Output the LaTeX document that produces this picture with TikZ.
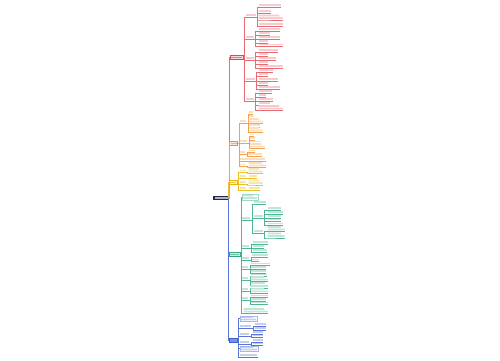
\documentclass[tikz,border=0pt]{standalone}
\usetikzlibrary{positioning}
\definecolor{rootC}{HTML}{1E2B4A}
\definecolor{redC}{HTML}{E2474F}
\definecolor{orgC}{HTML}{F0912A}
\definecolor{ylwC}{HTML}{E8B810}
\definecolor{grnC}{HTML}{2FA97C}
\definecolor{bluC}{HTML}{3E5BD0}

\begin{document}
\begin{tikzpicture}[x=1pt, y=-1pt,
  root/.style={fill=rootC, inner sep=0pt, minimum width=16pt, minimum height=4.6pt,
    path picture={\fill[white!65!rootC] ([shift={(1.5pt,1.6pt)}]path picture bounding box.south west)
      rectangle ([shift={(-1.5pt,-1.6pt)}]path picture bounding box.north east);}},
  mainbox/.style={draw=#1, fill=#1!22, line width=0.3pt, inner sep=0pt, minimum height=3.6pt,
    path picture={\fill[#1!70] ([shift={(1pt,1.3pt)}]path picture bounding box.south west)
      rectangle ([shift={(-1pt,-1.3pt)}]path picture bounding box.north east);}},
  leaf/.style={inner sep=0pt, anchor=west},
  boxed/.style={draw=#1!45, fill=white, line width=0.3pt},
  ln1/.style={minimum height=3pt,
    path picture={\fill[bar] ([shift={(0.5pt,1pt)}]path picture bounding box.south west)
      rectangle ([shift={(-0.5pt,-0.5pt)}]path picture bounding box.north east);}},
  ln2/.style={minimum height=5.6pt,
    path picture={\fill[bar] ([shift={(0.5pt,1pt)}]path picture bounding box.south west)
      rectangle ([shift={(-0.5pt,2.6pt)}]path picture bounding box.south east)
      ([shift={(0.5pt,3.4pt)}]path picture bounding box.south west)
      rectangle ([shift={(-4pt,-0.5pt)}]path picture bounding box.north east);}},
  bar/.style={fill=gray!30},
  wire/.style={draw=gray, line width=0.3pt}
]
\fill[white] (0,0) rectangle (500,360);
\useasboundingbox (0,0) rectangle (500,360);

%% -- root --
\node[root] (root) at (221,198) {};

%% -- red branch --
\begin{scope}[bar/.style={fill=redC!28}, wire/.style={draw=redC!80, line width=0.3pt}]
\node[mainbox=redC, minimum width=13pt] (red) at (236.5,57) {};
\draw[wire] (root.east) -| ([xshift=-0.5pt]red.west) -- (red.west);
\foreach \s/\ys/\sw/\lx/\leaves in {
    1/15/11/258/{5/23/1,11/13/1,17/25/2,24/25/1},
    2/37/9/258/{29/22/1,33/12/1,37/22/1,41/10/1,44.5/25/1},
    3/58/9/258/{50/20/1,54/10/1,58/18/1,62/10/1,66/25/1},
    4/79/10/258/{70/15/1,74/10/1,79/20/1,83/10/1,87/22/1},
    5/99/9/258/{91/14/1,95/8/1,99/15/1,103/12/1,107.5/25/2}}{
  \node[leaf, ln1, minimum width=\sw pt] (red-\s) at (245,\ys) {};
  \draw[wire] (red.east) -- ++(1,0) |- (red-\s.south west) -- (red-\s.south east);
  \foreach \y/\w/\n [count=\j] in \leaves {
    \node[leaf, ln\n, minimum width=\w pt] (red-\s-\j) at (\lx,\y) {};
    \draw[wire] (red-\s.south east) -- ++(1,0) |- (red-\s-\j.south west) -- (red-\s-\j.south east);
  }
}
\end{scope}

%% -- orange branch --
\begin{scope}[bar/.style={fill=orgC!30}, wire/.style={draw=orgC!85, line width=0.3pt}]
\node[mainbox=orgC, minimum width=8pt] (org) at (233.5,143) {};
\draw[wire] (root.east) -| ([xshift=-0.5pt]org.west) -- (org.west);
\foreach \s/\ys/\sw/\lx/\leaves in {
    1/121/7/248/{112/5/1,116/6/1,120.5/15/2,125/12/1,129.5/15/2},
    2/141/8/249/{134.5/5/1,138/6/1,141.5/12/1,145.5/16/2},
    3/152/6/247/{150.5/8/1,154/15/1},
    5/164.5/6/248/{164.5/18/2}}{
  \node[leaf, ln1, minimum width=\sw pt] (org-\s) at (239.5,\ys) {};
  \draw[wire] (org.east) -- ++(1,0) |- (org-\s.south west) -- (org-\s.south east);
  \foreach \y/\w/\n [count=\j] in \leaves {
    \node[leaf, ln\n, minimum width=\w pt] (org-\s-\j) at (\lx,\y) {};
    \draw[wire] (org-\s.south east) -- ++(1,0) |- (org-\s-\j.south west) -- (org-\s-\j.south east);
  }
}
\node[leaf, ln1, minimum width=26pt] (org-4) at (239.5,159) {};
\draw[wire] (org.east) -- ++(1,0) |- (org-4.south west) -- (org-4.south east);
\end{scope}

%% -- yellow branch --
\begin{scope}[bar/.style={fill=ylwC!35}, wire/.style={draw=ylwC!90, line width=0.3pt}]
\node[mainbox=ylwC, minimum width=8pt] (ylw) at (233,182) {};
\draw[wire] (root.east) -| ([xshift=-0.5pt]ylw.west) -- (ylw.west);
\foreach \s/\ys/\sw/\lx/\leaves in {
    1/170.5/7/248/{170.5/15/2},
    2/176/7/248/{176/9/1},
    3/182/7/248/{182/15/2},
    4/188/7/248/{188/12/1}}{
  \node[leaf, ln1, minimum width=\sw pt] (ylw-\s) at (239,\ys) {};
  \draw[wire] (ylw.east) -- ++(1,0) |- (ylw-\s.south west) -- (ylw-\s.south east);
  \foreach \y/\w/\n [count=\j] in \leaves {
    \node[leaf, ln\n, minimum width=\w pt] (ylw-\s-\j) at (\lx,\y) {};
    \draw[wire] (ylw-\s.south east) -- ++(1,0) |- (ylw-\s-\j.south west) -- (ylw-\s-\j.south east);
  }
}
\end{scope}

%% -- green branch --
\begin{scope}[bar/.style={fill=grnC!30}, wire/.style={draw=grnC!85, line width=0.3pt}]
\node[mainbox=grnC, minimum width=11pt] (grn) at (234.5,254) {};
\draw[wire] (root.east) -| ([xshift=-0.5pt]grn.west) -- (grn.west);
\node[leaf, ln2, boxed=grnC, minimum width=16pt] (grn-1) at (241.5,197) {};
\draw[wire] (grn.east) -- ++(0.5,0) |- (grn-1.west);
% nested part
\node[leaf, ln1, minimum width=9pt] (grn-2) at (241.5,218) {};
\draw[wire] (grn.east) -- ++(0.5,0) |- (grn-2.south west) -- (grn-2.south east);
\node[leaf, ln1, minimum width=13pt] (grn-2-1) at (253,202) {};
\draw[wire] (grn-2.south east) -- ++(1,0) |- (grn-2-1.south west) -- (grn-2-1.south east);
\foreach \s/\ys/\leaves in {
    2/216/{208/14/1,212/16/1,216/14/1,219.5/14/1,223.5/16/1},
    3/231/{228.5/18/2,235/18/2}}{
  \node[leaf, ln1, minimum width=10pt] (grn-2-\s) at (253,\ys) {};
  \draw[wire] (grn-2.south east) -- ++(1,0) |- (grn-2-\s.south west) -- (grn-2-\s.south east);
  \foreach \y/\w/\n [count=\j] in \leaves {
    \node[leaf, ln\n, minimum width=\w pt] (grn-2-\s-\j) at (267,\y) {};
    \draw[wire] (grn-2-\s.south east) -- ++(1,0) |- (grn-2-\s-\j.south west) -- (grn-2-\s-\j.south east);
  }
}
\foreach \s/\ys/\sw/\lx/\leaves in {
    3/246/8/252/{242/16/1,246/12/1,250/15/1},
    4/258/8/251/{255/17/1,259.5/8/1},
    5/267/7/250/{263.5/20/1,267/16/1,271/16/1},
    6/278/7/250/{274.5/17/1,278.5/18/2,283/15/1},
    7/289/7/250/{286/18/1,290.3/18/2},
    8/298/7/250/{295.5/18/1,299/16/1,302.5/18/1}}{
  \node[leaf, ln1, minimum width=\sw pt] (grn-\s) at (241.5,\ys) {};
  \draw[wire] (grn.east) -- ++(0.5,0) |- (grn-\s.south west) -- (grn-\s.south east);
  \foreach \y/\w/\n [count=\j] in \leaves {
    \node[leaf, ln\n, minimum width=\w pt] (grn-\s-\j) at (\lx,\y) {};
    \draw[wire] (grn-\s.south east) -- ++(1,0) |- (grn-\s-\j.south west) -- (grn-\s-\j.south east);
  }
}
\node[leaf, ln2, minimum width=25pt] (grn-9) at (243,310.5) {};
\draw[wire] (grn.east) -- ++(0.5,0) |- (grn-9.south west) -- (grn-9.south east);
\end{scope}

%% -- blue branch --
\begin{scope}[bar/.style={fill=bluC!30}, wire/.style={draw=bluC!85, line width=0.3pt}]
\node[mainbox=bluC, minimum width=8pt, fill=bluC!65] (blu) at (233,340) {};
\draw[wire] (root.east) -| ([xshift=-0.5pt]blu.west) -- (blu.west);
\node[leaf, ln2, boxed=bluC, minimum width=17pt] (blu-1) at (239.5,318.5) {};
\draw[wire] (blu.east) -- ++(1,0) |- (blu-1.west);
\foreach \s/\ys/\sw/\lx/\leaves in {
    2/326/12/254/{324/12/1,328/12/1},
    3/334/10/252/{332/11/1,335.5/11/1},
    4/342/10/252/{340/11/1,343.5/11/1}}{
  \node[leaf, ln1, minimum width=\sw pt] (blu-\s) at (239.5,\ys) {};
  \draw[wire] (blu.east) -- ++(1,0) |- (blu-\s.south west) -- (blu-\s.south east);
  \foreach \y/\w/\n [count=\j] in \leaves {
    \node[leaf, ln\n, minimum width=\w pt] (blu-\s-\j) at (\lx,\y) {};
    \draw[wire] (blu-\s.south east) -- ++(1,0) |- (blu-\s-\j.south west) -- (blu-\s-\j.south east);
  }
}
\node[leaf, ln2, boxed=bluC, minimum width=18pt] (blu-5) at (239.5,348.5) {};
\draw[wire] (blu.east) -- ++(1,0) |- (blu-5.west);
\node[leaf, ln1, minimum width=18pt] (blu-6) at (239.5,355) {};
\draw[wire] (blu.east) -- ++(1,0) |- (blu-6.south west) -- (blu-6.south east);
\end{scope}

\end{tikzpicture}
\end{document}
